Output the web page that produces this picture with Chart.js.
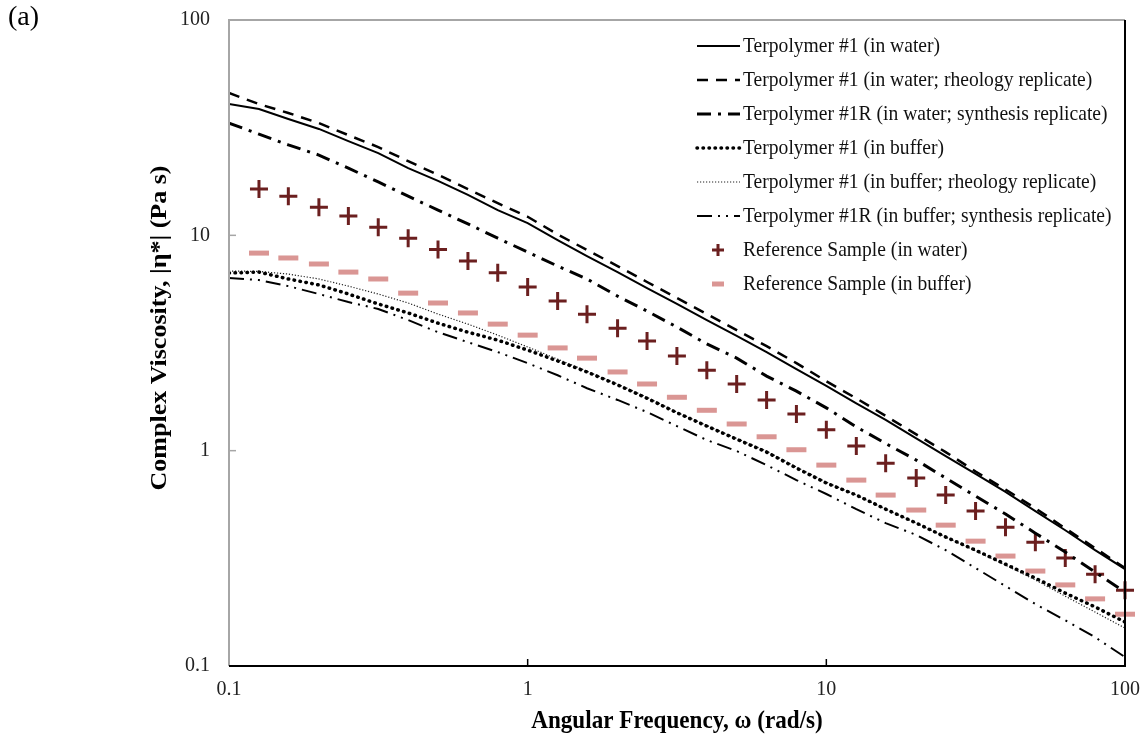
<!DOCTYPE html>
<html>
<head>
<meta charset="utf-8">
<script src="https://cdn.jsdelivr.net/npm/chart.js@4.4.0/dist/chart.umd.min.js"></script>
<style>
  html, body { margin: 0; padding: 0; background: #fff; }
  #wrap { width: 1145px; height: 738px; position: relative; }
</style>
</head>
<body>
<div id="wrap"><canvas id="viscChart" width="1145" height="738"></canvas></div>
<script>
// Angular frequency (rad/s), 10 points per decade
const omega = [0.1, 0.126, 0.158, 0.2, 0.251, 0.316, 0.398, 0.501, 0.631, 0.794,
  1, 1.26, 1.58, 2, 2.51, 3.16, 3.98, 5.01, 6.31, 7.94,
  10, 12.6, 15.8, 20, 25.1, 31.6, 39.8, 50.1, 63.1, 79.4, 100];
// reference sample was measured from the second point on
const refOmega = omega.slice(1);

// |eta*| (Pa s)
const terp1Water = [40.7, 38.6, 34.7, 31.2, 27.4, 24.1, 20.5, 17.9, 15.4, 13.1,
  11.4, 9.5, 8.0, 6.75, 5.69, 4.8, 4.04, 3.41, 2.87, 2.39,
  2.0, 1.66, 1.39, 1.14, 0.944, 0.78, 0.643, 0.524, 0.427, 0.345, 0.282];
const terp1WaterRheo = [45.8, 40.7, 37.0, 33.2, 29.2, 25.7, 22.1, 19.1, 16.4, 14.1,
  12.2, 10.1, 8.55, 7.2, 6.07, 5.12, 4.31, 3.63, 3.06, 2.55,
  2.1, 1.75, 1.45, 1.19, 0.985, 0.8, 0.66, 0.54, 0.436, 0.353, 0.285];
const terp1RWater = [33.2, 29.5, 26.3, 23.6, 20.5, 17.7, 15.2, 13.1, 11.3, 9.7,
  8.36, 7.2, 6.27, 5.22, 4.45, 3.75, 3.13, 2.69, 2.22, 1.89,
  1.58, 1.29, 1.08, 0.904, 0.746, 0.615, 0.508, 0.414, 0.338, 0.273, 0.22];
const terp1Buffer = [6.68, 6.75, 6.27, 5.88, 5.34, 4.8, 4.36, 3.91, 3.55, 3.26,
  2.93, 2.61, 2.32, 2.02, 1.75, 1.5, 1.3, 1.13, 0.985, 0.83,
  0.707, 0.622, 0.535, 0.461, 0.397, 0.345, 0.297, 0.256, 0.218, 0.188, 0.16];
const terp1BufferRheo = [6.83, 6.8, 6.61, 6.27, 5.81, 5.34, 4.85, 4.31, 3.87, 3.44,
  3.03, 2.66, 2.34, 2.04, 1.77, 1.51, 1.31, 1.14, 0.996, 0.839,
  0.715, 0.622, 0.535, 0.461, 0.397, 0.342, 0.294, 0.251, 0.211, 0.178, 0.15];
const terp1RBuffer = [6.34, 6.2, 5.81, 5.34, 4.9, 4.55, 4.04, 3.55, 3.19, 2.87,
  2.55, 2.24, 1.95, 1.72, 1.51, 1.3, 1.12, 0.996, 0.857, 0.73,
  0.629, 0.535, 0.461, 0.406, 0.345, 0.285, 0.235, 0.194, 0.163, 0.136, 0.11];
const refWater = [16.4, 15.2, 13.5, 12.3, 10.9, 9.7, 8.6, 7.6, 6.7, 5.75,
  4.95, 4.3, 3.7, 3.23, 2.75, 2.36, 2.04, 1.72, 1.48, 1.25,
  1.05, 0.875, 0.746, 0.622, 0.524, 0.441, 0.376, 0.317, 0.267, 0.225];
const refBuffer = [8.27, 7.85, 7.36, 6.75, 6.27, 5.39, 4.85, 4.36, 3.87, 3.44,
  3.0, 2.69, 2.32, 2.04, 1.77, 1.54, 1.33, 1.16, 1.01, 0.857,
  0.73, 0.622, 0.53, 0.451, 0.38, 0.324, 0.276, 0.238, 0.205, 0.174];

const decadeTicks = [0.1, 1, 10, 100];
const seriesLabels = [
  'Terpolymer #1 (in water)',
  'Terpolymer #1 (in water; rheology replicate)',
  'Terpolymer #1R (in water; synthesis replicate)',
  'Terpolymer #1 (in buffer)',
  'Terpolymer #1 (in buffer; rheology replicate)',
  'Terpolymer #1R (in buffer; synthesis replicate)',
  'Reference Sample (in water)',
  'Reference Sample (in buffer)'
];

const SERIF = '"Liberation Serif", "Times New Roman", serif';
const plusColor = '#6B1F1F';
const minusColor = '#DA9694';
// the source figure is a little taller than wide, text looks narrow
const TEXT_SX = 0.89;

function pts(xs, ys) {
  return ys.map((y, i) => ({ x: xs[i], y: y }));
}

function lineSet(label, ys, width, dash, color, cap) {
  return {
    label: label,
    data: pts(omega, ys),
    borderColor: color || '#000',
    borderWidth: width,
    borderDash: dash,
    borderCapStyle: cap || 'butt',
    pointRadius: 0,
    fill: false,
    tension: 0
  };
}

const datasets = [
  lineSet(seriesLabels[0], terp1Water, 2, []),
  lineSet(seriesLabels[1], terp1WaterRheo, 2.5, [11, 8]),
  lineSet(seriesLabels[2], terp1RWater, 3, [14, 7, 3, 7]),
  lineSet(seriesLabels[3], terp1Buffer, 3.5, [0.5, 5.5], '#000', 'round'),
  lineSet(seriesLabels[4], terp1BufferRheo, 1.2, [1.2, 1.8], '#222'),
  lineSet(seriesLabels[5], terp1RBuffer, 2, [15, 6, 2, 6, 2, 6]),
  {
    label: seriesLabels[6],
    data: pts(refOmega, refWater),
    showLine: false,
    pointStyle: 'cross',
    pointRadius: 9,
    pointBorderWidth: 3,
    borderColor: plusColor,
    backgroundColor: plusColor,
    clip: false
  },
  {
    label: seriesLabels[7],
    data: pts(refOmega, refBuffer),
    showLine: false,
    pointStyle: 'line',
    pointRadius: 10,
    pointBorderWidth: 5,
    borderColor: minusColor,
    backgroundColor: minusColor,
    clip: false
  }
];

// text squeezed horizontally (sx) around its anchor
function narrowText(ctx, text, x, y, sx) {
  ctx.save();
  ctx.translate(x, y);
  ctx.scale(sx, 1);
  ctx.fillText(text, 0, 0);
  ctx.restore();
}

// frame, inward ticks, axis titles, panel letter and legend
const decorPlugin = {
  id: 'decor',
  afterDraw(chart) {
    const ctx = chart.ctx;
    const a = chart.chartArea;
    const xs = chart.scales.x;
    const ys = chart.scales.y;
    ctx.save();

    // plot frame
    ctx.lineWidth = 2;
    ctx.strokeStyle = '#A6A6A6';
    ctx.beginPath();
    ctx.moveTo(a.left, a.bottom);
    ctx.lineTo(a.left, a.top);
    ctx.lineTo(a.right, a.top);
    ctx.stroke();
    ctx.strokeStyle = '#000';
    ctx.beginPath();
    ctx.moveTo(a.left, a.bottom);
    ctx.lineTo(a.right, a.bottom);
    ctx.lineTo(a.right, a.top);
    ctx.stroke();

    // inward tick marks
    ctx.lineWidth = 1.5;
    decadeTicks.slice(1, -1).forEach(v => {
      const px = xs.getPixelForValue(v);
      ctx.strokeStyle = '#000';
      ctx.beginPath();
      ctx.moveTo(px, a.bottom);
      ctx.lineTo(px, a.bottom - 7);
      ctx.stroke();
      const py = ys.getPixelForValue(v);
      ctx.strokeStyle = '#A6A6A6';
      ctx.beginPath();
      ctx.moveTo(a.left, py);
      ctx.lineTo(a.left + 7, py);
      ctx.stroke();
    });

    // axis titles
    ctx.fillStyle = '#000';
    ctx.textAlign = 'center';
    ctx.textBaseline = 'middle';
    ctx.font = 'bold 26px ' + SERIF;
    narrowText(ctx, 'Angular Frequency, \u03c9 (rad/s)', (a.left + a.right) / 2, 721, TEXT_SX);
    ctx.save();
    ctx.translate(160, 328);
    ctx.rotate(-Math.PI / 2);
    ctx.scale(1, TEXT_SX);
    ctx.fillText('Complex Viscosity, |\u03b7*| (Pa s)', 0, 0);
    ctx.restore();

    // panel letter
    ctx.textAlign = 'left';
    ctx.font = '28px ' + SERIF;
    narrowText(ctx, '(a)', 8, 18, 1);

    // legend
    ctx.font = '22px ' + SERIF;
    const x0 = 697, x1 = 740, textX = 743;
    chart.data.datasets.forEach((ds, i) => {
      const y = 46 + i * 34;
      if (ds.showLine === false) {
        ctx.strokeStyle = ds.borderColor;
        ctx.setLineDash([]);
        ctx.lineCap = 'butt';
        ctx.lineWidth = i === 6 ? 3 : 5;
        const cx = 718;
        const r = 6;
        ctx.beginPath();
        ctx.moveTo(cx - r, y);
        ctx.lineTo(cx + r, y);
        if (i === 6) {
          ctx.moveTo(cx, y - r);
          ctx.lineTo(cx, y + r);
        }
        ctx.stroke();
      } else {
        ctx.strokeStyle = ds.borderColor;
        ctx.lineWidth = ds.borderWidth;
        ctx.setLineDash(ds.borderDash || []);
        ctx.lineCap = ds.borderCapStyle || 'butt';
        ctx.beginPath();
        ctx.moveTo(x0, y);
        ctx.lineTo(x1, y);
        ctx.stroke();
      }
      ctx.setLineDash([]);
      ctx.fillStyle = '#111';
      narrowText(ctx, ds.label, textX, y, TEXT_SX);
    });
    ctx.restore();
  }
};

const tickFont = { family: SERIF, size: 20 };

// keep the tick labels from pushing the plot area inwards
function noOverflow(s) {
  s.paddingTop = 0;
  s.paddingBottom = 0;
  s.paddingLeft = 0;
  s.paddingRight = 0;
}

const chart = new Chart(document.getElementById('viscChart').getContext('2d'), {
  type: 'line',
  data: { datasets: datasets },
  options: {
    responsive: false,
    animation: false,
    devicePixelRatio: 1,
    layout: { padding: { top: 20, right: 20, left: 0, bottom: 0 } },
    plugins: { legend: { display: false }, tooltip: { enabled: false } },
    scales: {
      x: {
        type: 'logarithmic',
        min: 0.1,
        max: 100,
        afterBuildTicks: s => { s.ticks = decadeTicks.map(v => ({ value: v })); },
        afterFit: s => { s.height = 72; noOverflow(s); },
        ticks: {
          autoSkip: false,
          maxRotation: 0,
          padding: 12,
          color: '#222',
          font: tickFont,
          callback: v => String(v)
        },
        grid: { display: false, drawTicks: false },
        border: { display: false }
      },
      y: {
        type: 'logarithmic',
        min: 0.1,
        max: 100,
        afterBuildTicks: s => { s.ticks = decadeTicks.map(v => ({ value: v })); },
        afterFit: s => { s.width = 229; noOverflow(s); },
        ticks: {
          autoSkip: false,
          padding: 19,
          color: '#222',
          font: tickFont,
          callback: v => String(v)
        },
        grid: { display: false, drawTicks: false },
        border: { display: false }
      }
    }
  },
  plugins: [decorPlugin]
});

// nudge the layout padding so the plot box lands where the figure has it
const ca = chart.chartArea;
const pad = chart.options.layout.padding;
const dTop = 20 - ca.top, dRight = ca.right - 1125;
if (Math.abs(dTop) > 0.5 || Math.abs(dRight) > 0.5) {
  pad.top += dTop;
  pad.right += dRight;
  chart.update();
}
</script>
</body>
</html>
